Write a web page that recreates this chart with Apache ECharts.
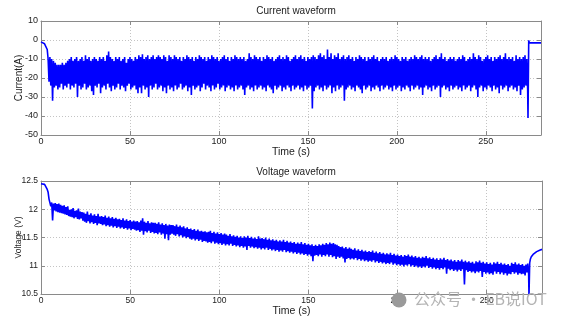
<!DOCTYPE html>
<html><head><meta charset="utf-8">
<script src="https://cdn.jsdelivr.net/npm/echarts@6/dist/echarts.min.js"></script>
<style>html,body{margin:0;padding:0;background:#fff}#c{width:565px;height:325px}</style>
</head><body><div id="c"></div>
<script>
// ---------- data ----------
const xMax = 281;
const xTicks = [0, 50, 100, 150, 200, 250];
const bandStart = 4; // seconds, one high/low pair per second
// Current (A)
const currentHeadT = [0, 1, 2, 3, 3.5];
const currentHeadV = [-1, -2, -2, -2.3, -5];
const currentHigh = [
-10,-9,-10,-11,-12,-13,-13,-13,-12,-13,
-12,-11,-10,-9,-11,-10,-9,-11,-10,-9,
-11,-8,-10,-9,-11,-10,-9,-10,-11,-9,
-10,-9,-11,-8,-6,-9,-10,-11,-9,-10,
-9,-11,-10,-9,-12,-10,-9,-10,-11,-9,
-10,-8,-9,-7.5,-10,-9,-8,-10,-9,-8,
-10,-9,-8,-9,-10,-8,-9,-11,-8,-9,
-10,-8,-9,-10,-9,-11,-9,-10,-8,-9,
-10,-9,-11,-9,-10,-8,-9,-10,-9,-11,
-9,-10,-8,-9,-10,-9,-11,-10,-9,-8,
-10,-9,-11,-9,-10,-8,-9,-10,-9,-10,
-9,-11,-10,-7,-9,-10,-8,-9,-10,-9,
-11,-9,-10,-8,-9,-10,-9,-11,-10,-9,
-8,-10,-9,-10,-8,-9,-11,-10,-9,-8,
-10,-9,-8,-10,-9,-11,-9,-10,-9,-8,
-9,-10,-8,-7,-9,-8,-10,-5,-9,-7,
-10,-8,-9,-7,-10,-9,-8,-10,-9,-8,
-10,-9,-11,-9,-10,-8,-9,-10,-9,-11,
-9,-10,-9,-8,-10,-9,-11,-10,-9,-10,
-9,-11,-10,-9,-10,-8,-9,-10,-11,-9,
-10,-9,-11,-10,-9,-10,-8,-9,-10,-9,
-8,-10,-9,-10,-9,-11,-10,-9,-8,-10,
-9,-7,-10,-9,-11,-10,-9,-10,-9,-11,
-10,-9,-10,-8,-9,-11,-10,-9,-10,-7,
-9,-10,-8,-9,-11,-10,-9,-8,-10,-9,
-11,-9,-10,-9,-8,-10,-9,-7,-10,-9,
-10,-9,-11,-8,-10,-9,-10,-9,-8,-10];
const currentLow = [
-22,-24,-32,-25,-24,-26,-25,-23,-26,-24,
-25,-23,-26,-24,-25,-23,-30,-24,-26,-25,
-23,-26,-25,-24,-27,-29,-24,-25,-23,-28,
-25,-24,-26,-23,-25,-27,-24,-26,-25,-23,
-26,-24,-25,-27,-24,-23,-26,-25,-24,-26,
-28,-25,-28,-24,-26,-25,-30,-24,-26,-25,
-23,-26,-25,-24,-27,-25,-28,-24,-26,-25,
-27,-24,-26,-25,-23,-26,-25,-24,-27,-25,
-29,-24,-26,-25,-24,-27,-25,-23,-26,-24,
-25,-27,-24,-26,-25,-23,-26,-25,-24,-27,
-25,-24,-26,-25,-27,-24,-26,-25,-24,-26,
-29,-25,-24,-26,-25,-27,-24,-26,-25,-24,
-26,-25,-27,-24,-25,-26,-28,-24,-26,-25,
-24,-27,-25,-26,-24,-25,-27,-24,-26,-25,
-24,-26,-25,-27,-24,-26,-25,-24,-36,-27,
-25,-24,-26,-25,-27,-24,-26,-25,-24,-28,
-25,-27,-24,-26,-25,-24,-32,-26,-25,-24,
-26,-25,-27,-24,-25,-26,-28,-24,-26,-25,
-24,-27,-25,-26,-24,-25,-27,-24,-26,-25,
-24,-26,-25,-27,-24,-26,-25,-24,-27,-25,
-26,-24,-25,-27,-24,-26,-25,-24,-26,-25,
-29,-25,-24,-26,-25,-27,-24,-26,-25,-24,
-30,-25,-24,-26,-25,-27,-24,-26,-25,-24,
-26,-25,-27,-24,-26,-25,-24,-27,-25,-24,
-26,-30,-25,-24,-27,-25,-26,-24,-25,-27,
-24,-26,-25,-28,-24,-26,-25,-24,-27,-25,
-24,-26,-25,-27,-24,-29,-26,-25,-24,-26];
const currentTailT = [273.7, 274.1, 274.5, 281];
const currentTailV = [-41, -0.2, -1.5, -1.5];
// Voltage (V)
const voltageHeadT = [0, 1, 2, 3, 3.5];
const voltageHeadV = [12.45, 12.45, 12.44, 12.42, 12.35];
const voltageHigh = [
12.3,12.15,12.12,12.1,12.11,12.09,12.1,12.08,12.06,12.07,
12.04,12.05,11.99,12.0,12.02,11.97,11.98,12.01,11.96,11.95,
11.94,11.92,11.96,11.9,11.93,11.89,11.91,11.88,11.92,11.87,
11.88,11.86,11.89,11.85,11.87,11.84,11.86,11.83,11.85,11.82,
11.83,11.81,11.84,11.8,11.82,11.79,11.81,11.78,11.8,11.78,
11.79,11.77,11.8,11.84,11.78,11.76,11.79,11.75,11.77,11.76,
11.76,11.74,11.77,11.73,11.75,11.72,11.74,11.71,11.73,11.72,
11.72,11.7,11.73,11.69,11.71,11.68,11.7,11.66,11.68,11.65,
11.66,11.63,11.65,11.62,11.64,11.61,11.62,11.6,11.61,11.59,
11.6,11.62,11.58,11.6,11.57,11.59,11.56,11.58,11.55,11.57,
11.55,11.53,11.56,11.52,11.54,11.51,11.53,11.5,11.52,11.49,
11.52,11.5,11.53,11.49,11.51,11.48,11.5,11.47,11.52,11.48,
11.49,11.47,11.5,11.46,11.48,11.45,11.47,11.44,11.46,11.43,
11.45,11.43,11.46,11.42,11.44,11.41,11.43,11.4,11.42,11.39,
11.41,11.39,11.42,11.38,11.4,11.37,11.39,11.36,11.38,11.35,
11.37,11.35,11.38,11.36,11.39,11.37,11.4,11.38,11.41,11.39,
11.4,11.38,11.37,11.35,11.33,11.34,11.31,11.33,11.3,11.32,
11.3,11.28,11.31,11.27,11.29,11.26,11.28,11.25,11.27,11.24,
11.26,11.24,11.27,11.23,11.25,11.22,11.24,11.21,11.23,11.2,
11.22,11.2,11.23,11.19,11.21,11.18,11.2,11.17,11.19,11.16,
11.19,11.17,11.2,11.16,11.18,11.15,11.17,11.14,11.16,11.13,
11.16,11.14,11.17,11.13,11.15,11.12,11.14,11.11,11.13,11.1,
11.13,11.11,11.14,11.1,11.12,11.09,11.11,11.08,11.1,11.07,
11.1,11.08,11.11,11.07,11.09,11.06,11.08,11.05,11.07,11.04,
11.08,11.06,11.09,11.05,11.07,11.04,11.06,11.03,11.05,11.02,
11.06,11.04,11.07,11.03,11.05,11.02,11.04,11.01,11.03,11.0,
11.05,11.03,11.06,11.02,11.04,11.01,11.03,11.0,11.02,11.04];
const voltageLow = [
12.18,12.05,11.8,11.98,11.96,11.95,11.94,11.93,11.92,11.91,
11.9,11.88,11.87,11.86,11.84,11.86,11.83,11.82,11.84,11.8,
11.78,11.76,11.79,11.75,11.77,11.74,11.76,11.72,11.75,11.74,
11.72,11.73,11.7,11.72,11.69,11.71,11.68,11.7,11.67,11.69,
11.66,11.68,11.65,11.67,11.64,11.66,11.63,11.65,11.64,11.62,
11.63,11.6,11.62,11.55,11.61,11.59,11.62,11.58,11.6,11.57,
11.58,11.56,11.59,11.55,11.57,11.48,11.56,11.45,11.55,11.57,
11.55,11.53,11.56,11.52,11.54,11.5,11.52,11.49,11.51,11.48,
11.46,11.48,11.45,11.47,11.44,11.46,11.42,11.44,11.43,11.41,
11.42,11.4,11.43,11.39,11.41,11.38,11.4,11.37,11.39,11.36,
11.38,11.36,11.39,11.35,11.37,11.34,11.36,11.33,11.35,11.32,
11.34,11.28,11.35,11.32,11.34,11.31,11.33,11.3,11.32,11.29,
11.31,11.29,11.32,11.28,11.3,11.27,11.29,11.26,11.28,11.25,
11.27,11.25,11.28,11.24,11.26,11.23,11.25,11.22,11.24,11.21,
11.23,11.2,11.22,11.19,11.21,11.18,11.2,11.17,11.08,11.18,
11.19,11.17,11.2,11.16,11.19,11.17,11.2,11.16,11.19,11.15,
11.17,11.12,11.16,11.14,11.16,11.13,11.06,11.12,11.14,11.11,
11.13,11.11,11.14,11.1,11.12,11.09,11.11,11.08,11.1,11.07,
11.09,11.07,11.1,11.06,11.08,11.05,11.07,11.04,11.06,11.03,
11.05,11.03,11.06,11.02,11.04,11.01,11.03,11.0,11.02,10.99,
11.02,11.0,11.03,10.99,11.01,10.98,11.0,10.97,10.99,10.96,
10.99,10.97,11.0,10.96,10.98,10.95,10.97,10.94,10.96,10.93,
10.96,10.94,10.97,10.86,10.95,10.92,10.94,10.91,10.93,10.9,
10.93,10.91,10.94,10.67,10.92,10.89,10.91,10.88,10.9,10.87,
10.9,10.88,10.91,10.8,10.89,10.86,10.88,10.85,10.87,10.84,
10.9,10.86,10.89,10.85,10.88,10.84,10.87,10.83,10.86,10.85,
10.89,10.86,10.88,10.84,10.87,10.85,10.86,10.83,10.88,10.86];
const voltageTailT = [273.7, 274.1, 274.5, 275, 276, 277, 278, 279, 280, 281];
const voltageTailV = [10.45, 11.05, 11.12, 11.16, 11.2, 11.23, 11.25, 11.27, 11.28, 11.29];

// ---------- build series ----------
function build(headT, headV, highs, lows, tailT, tailV) {
  const out = [];
  headT.forEach((t, i) => out.push([t, headV[i]]));
  highs.forEach((h, i) => { out.push([bandStart + i, h]); out.push([bandStart + i + 0.5, lows[i]]); });
  tailT.forEach((t, i) => out.push([t, tailV[i]]));
  return out;
}
const currentData = build(currentHeadT, currentHeadV, currentHigh, currentLow, currentTailT, currentTailV);
const voltageData = build(voltageHeadT, voltageHeadV, voltageHigh, voltageLow, voltageTailT, voltageTailV);

const FONT = '"Liberation Sans", Arial, sans-serif';
const axisCol = '#8a8a8a';
const gridLine = { show: true, lineStyle: { color: '#c4c4c4', type: [1, 2], width: 1 } };
function xAx(g, fs) {
  return [{
    gridIndex: g, type: 'value', min: 0, max: xMax, interval: 50, position: 'bottom',
    name: 'Time (s)', nameLocation: 'middle', nameGap: 12, nameMoveOverlap: false,
    nameTextStyle: { fontFamily: FONT, fontSize: 10.5, color: '#222' },
    axisLine: { show: true, onZero: false, lineStyle: { color: axisCol } },
    axisTick: { show: true, inside: true, length: 4, lineStyle: { color: axisCol } },
    axisLabel: { fontFamily: FONT, fontSize: fs, color: '#222', margin: 2, showMaxLabel: false },
    splitLine: gridLine
  }, {
    gridIndex: g, type: 'value', min: 0, max: xMax, interval: 50, position: 'top',
    axisLine: { show: true, onZero: false, lineStyle: { color: axisCol } },
    axisTick: { show: true, inside: true, length: 4, lineStyle: { color: axisCol } },
    axisLabel: { show: false }, splitLine: { show: false }
  }];
}
function yAx(g, min, max, iv, name, nfs, fs, gap) {
  return [{
    gridIndex: g, type: 'value', min: min, max: max, interval: iv, position: 'left',
    name: name, nameLocation: 'middle', nameGap: gap, nameRotate: 90, nameMoveOverlap: false,
    nameTextStyle: { fontFamily: FONT, fontSize: nfs, color: '#222' },
    axisLine: { show: true, onZero: false, lineStyle: { color: axisCol } },
    axisTick: { show: true, inside: true, length: 4, lineStyle: { color: axisCol } },
    axisLabel: { fontFamily: FONT, fontSize: fs, color: '#222', margin: 3 },
    splitLine: gridLine
  }, {
    gridIndex: g, type: 'value', min: min, max: max, interval: iv, position: 'right',
    axisLine: { show: true, onZero: false, lineStyle: { color: axisCol } },
    axisTick: { show: true, inside: true, length: 4, lineStyle: { color: axisCol } },
    axisLabel: { show: false }, splitLine: { show: false }
  }];
}

const chart = echarts.init(document.getElementById('c'), null, { renderer: 'canvas' });
chart.setOption({
  animation: false,
  backgroundColor: '#fff',
  title: [
    { text: 'Current waveform', left: 291, top: 1, textAlign: 'center',
      textStyle: { fontFamily: FONT, fontSize: 10, fontWeight: 'normal', color: '#222' } },
    { text: 'Voltage waveform', left: 291, top: 162, textAlign: 'center',
      textStyle: { fontFamily: FONT, fontSize: 10, fontWeight: 'normal', color: '#222' } }
  ],
  grid: [
    { left: 41, top: 21, width: 500, height: 114, containLabel: false, outerBoundsMode: 'none' },
    { left: 41, top: 181, width: 501, height: 113, containLabel: false, outerBoundsMode: 'none' }
  ],
  xAxis: [...xAx(0, 9), ...xAx(1, 8.5)],
  yAxis: [...yAx(0, -50, 10, 10, 'Current(A)', 10, 9, 17), ...yAx(1, 10.5, 12.5, 0.5, 'Voltage (V)', 8.5, 8.5, 18)],
  series: [
    { type: 'line', xAxisIndex: 0, yAxisIndex: 0, data: currentData, showSymbol: false, symbol: 'none',
      lineStyle: { color: '#0000ff', width: 1.6 }, clip: true },
    { type: 'line', xAxisIndex: 2, yAxisIndex: 2, data: voltageData, showSymbol: false, symbol: 'none',
      lineStyle: { color: '#0000ff', width: 1.6 }, clip: true }
  ],
  graphic: [
    { type: 'circle', shape: { cx: 399, cy: 300, r: 7.5 }, style: { fill: '#9a9a9a' }, z: 100 },
    { type: 'text', left: 414, top: 291, z: 100,
      style: { text: '公众号 · EB说IOT', fill: '#b4b4b4', font: '16px "Noto Sans CJK SC", sans-serif' } }
  ]
});
</script>
</body></html>
